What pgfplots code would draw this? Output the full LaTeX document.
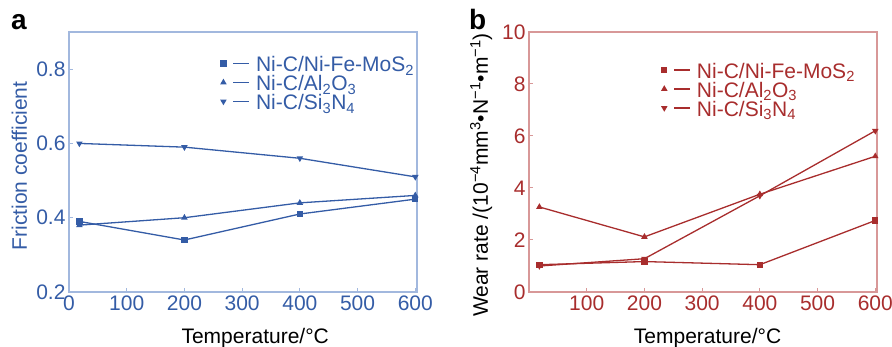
\documentclass[border=0pt]{standalone}
\usepackage{fontspec}
\setmainfont{Liberation Sans}
\usepackage{pgfplots}
\pgfplotsset{compat=1.18}
\definecolor{bl}{RGB}{52,92,166}
\definecolor{blbox}{RGB}{162,184,222}
\definecolor{rd}{RGB}{168,45,45}
\definecolor{rdbox}{RGB}{216,152,152}
\newcommand{\lf}{\fontsize{21}{24}\selectfont}
\pgfplotsset{
 common/.style={
  scale only axis, width=348pt, height=260pt,
  anchor=south west,
  tick align=inside, xtick pos=bottom, ytick pos=left,
  major tick length=4pt,
  /pgf/number format/assume math mode=true,
  tick label style={font=\lf},
  xmin=0, xmax=603,
  legend cell align=left,
  legend style={draw=none, fill=none, inner sep=0pt, row sep=0pt,
    font=\lf,
    nodes={inner sep=0pt, text height=13pt, text depth=6pt}},
  legend image code/.code={\draw[mark=none, line width=1.3pt] (10pt,5pt) -- (26pt,5pt); \path plot coordinates {(0pt,5pt)}; \path (32pt,5pt);},
  every axis plot/.append style={line width=1.3pt, mark size=2.5pt},
 }
}
\begin{document}
\begin{tikzpicture}
\node[anchor=base west, font=\fontsize{28}{30}\selectfont\bfseries, inner sep=0pt] at (11pt,317pt) {a};
\node[anchor=base west, font=\fontsize{28}{30}\selectfont\bfseries, inner sep=0pt] at (469pt,317pt) {b};
\begin{axis}[common, at={(69pt,55pt)},
  axis line style={blbox, line width=1.2pt},
  major tick style={blbox, line width=1pt},
  ymin=0.2, ymax=0.9,
  ytick={0.2,0.4,0.6,0.8},
  yticklabel style={bl, /pgf/number format/fixed, /pgf/number format/precision=1},
  xtick={0,100,...,600},
  xticklabel style={bl},
  xlabel={Temperature/°C},
  ylabel={Friction coefficient},
  every axis x label/.style={at={(axis description cs:0.535,-0.2)}, anchor=base, font=\lf},
  every axis y label/.style={at={(axis description cs:-0.121,0.485)}, rotate=90, anchor=base, text=bl, font=\lf},
  legend style={at={(axis description cs:0.436,0.897)}, anchor=north west, text=bl},
]
\addplot[bl, mark=square*] coordinates {(18,0.39) (200,0.34) (400,0.41) (600,0.45)};
\addlegendentry{Ni-C/Ni-Fe-MoS\textsubscript{2}}
\addplot[bl, mark=triangle*] coordinates {(18,0.38) (200,0.40) (400,0.44) (600,0.46)};
\addlegendentry{Ni-C/Al\textsubscript{2}O\textsubscript{3}}
\addplot[bl, mark=triangle*, mark options={rotate=180}] coordinates {(18,0.60) (200,0.59) (400,0.56) (600,0.51)};
\addlegendentry{Ni-C/Si\textsubscript{3}N\textsubscript{4}}
\end{axis}
\begin{axis}[common, at={(529pt,55pt)},
  axis line style={rdbox, line width=1.2pt},
  major tick style={rdbox, line width=1pt},
  ymin=0, ymax=10,
  ytick={0,2,...,10},
  yticklabel style={rd},
  xtick={100,200,...,600},
  xticklabel style={rd},
  xlabel={Temperature/°C},
  every axis x label/.style={at={(axis description cs:0.513,-0.2)}, anchor=base, font=\lf},
  ylabel={Wear rate /(10\textsuperscript{−4}mm\textsuperscript{3}•N\textsuperscript{−1}•m\textsuperscript{−1})},
  every axis y label/.style={at={(axis description cs:-0.118,0.45)}, rotate=90, anchor=base, font=\lf},
  legend style={at={(axis description cs:0.381,0.872)}, anchor=north west, text=rd},
]
\addplot[rd, mark=square*] coordinates {(18,1.05) (200,1.17) (400,1.05) (600,2.75)};
\addlegendentry{Ni-C/Ni-Fe-MoS\textsubscript{2}}
\addplot[rd, mark=triangle*] coordinates {(18,3.27) (200,2.12) (400,3.76) (600,5.22)};
\addlegendentry{Ni-C/Al\textsubscript{2}O\textsubscript{3}}
\addplot[rd, mark=triangle*, mark options={rotate=180}] coordinates {(18,1.0) (200,1.28) (400,3.7) (600,6.2)};
\addlegendentry{Ni-C/Si\textsubscript{3}N\textsubscript{4}}
\end{axis}
\pgfresetboundingbox
\path[use as bounding box] (0pt,0pt) rectangle (892pt,347pt);
\end{tikzpicture}
\end{document}
